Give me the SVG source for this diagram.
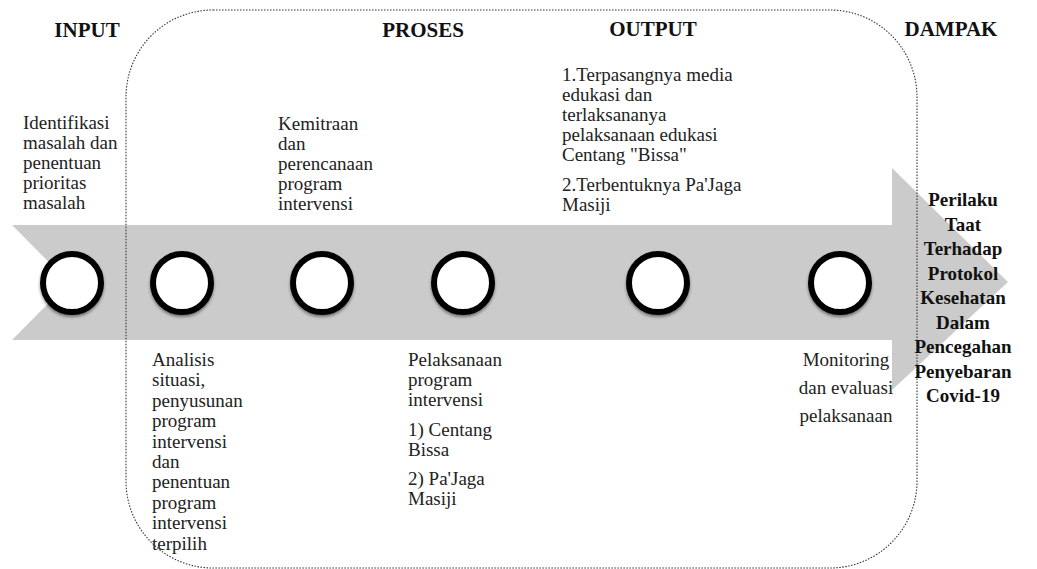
<svg xmlns="http://www.w3.org/2000/svg" width="1037" height="569" viewBox="0 0 1037 569">
<style>
.hd{font-family:"Liberation Serif","Times New Roman",serif;font-weight:bold;font-size:21px;fill:#111;text-anchor:middle}
.tx{font-family:"Liberation Serif","Times New Roman",serif;font-size:19px;fill:#222}
.bd{font-family:"Liberation Serif","Times New Roman",serif;font-weight:bold;font-size:19px;fill:#111;text-anchor:middle}
.node{fill:#fff;stroke:#000;stroke-width:6;filter:url(#sh)}
.frame{fill:none;stroke:#333;stroke-width:1.1;stroke-dasharray:1.5 1.5}
</style>
<defs>
<filter id="sh" x="-30%" y="-30%" width="160%" height="170%">
<feDropShadow dx="0" dy="2" stdDeviation="1.5" flood-color="#000" flood-opacity="0.45"/>
</filter>
</defs>
<rect width="1037" height="569" fill="#fff"/>
<g id="arrow">
<polygon points="12,225 892,225 892,168 1008,282 892,390 892,340 12,340 69,282.5" fill="#cbcbcb"/>
</g>
<g id="frame">
<rect class="frame" x="126" y="10" width="791" height="558" rx="87" ry="87"/>
</g>
<g id="headers">
<text class="hd" x="87" y="37">INPUT</text>
<text class="hd" x="423" y="37">PROSES</text>
<text class="hd" x="653" y="36">OUTPUT</text>
<text class="hd" x="951" y="36">DAMPAK</text>
</g>
<g id="connectors"></g>
<g id="n1"><circle class="node" cx="72" cy="283" r="29"/>
<text class="tx"><tspan x="23" y="129">Identifikasi</tspan><tspan x="23" y="149">masalah dan</tspan><tspan x="23" y="169">penentuan</tspan><tspan x="23" y="189">prioritas</tspan><tspan x="23" y="209">masalah</tspan></text></g>
<g id="n2"><circle class="node" cx="182" cy="283" r="29"/>
<text class="tx"><tspan x="152" y="366">Analisis</tspan><tspan x="152" y="386.4">situasi,</tspan><tspan x="152" y="406.8">penyusunan</tspan><tspan x="152" y="427.2">program</tspan><tspan x="152" y="447.6">intervensi</tspan><tspan x="152" y="468">dan</tspan><tspan x="152" y="488.4">penentuan</tspan><tspan x="152" y="508.8">program</tspan><tspan x="152" y="529.2">intervensi</tspan><tspan x="152" y="549.6">terpilih</tspan></text></g>
<g id="n3"><circle class="node" cx="322" cy="283" r="29"/>
<text class="tx"><tspan x="278" y="130">Kemitraan</tspan><tspan x="278" y="150">dan</tspan><tspan x="278" y="170">perencanaan</tspan><tspan x="278" y="190">program</tspan><tspan x="278" y="210">intervensi</tspan></text></g>
<g id="n4"><circle class="node" cx="463" cy="283" r="29"/>
<text class="tx"><tspan x="408" y="366">Pelaksanaan</tspan><tspan x="408" y="386">program</tspan><tspan x="408" y="406">intervensi</tspan><tspan x="408" y="436">1) Centang</tspan><tspan x="408" y="456">Bissa</tspan><tspan x="408" y="485">2) Pa'Jaga</tspan><tspan x="408" y="505">Masiji</tspan></text></g>
<g id="n5"><circle class="node" cx="658" cy="283" r="29"/>
<text class="tx"><tspan x="562" y="81">1.Terpasangnya media</tspan><tspan x="562" y="101">edukasi dan</tspan><tspan x="562" y="121">terlaksananya</tspan><tspan x="562" y="141">pelaksanaan edukasi</tspan><tspan x="562" y="161">Centang "Bissa"</tspan><tspan x="562" y="191">2.Terbentuknya Pa'Jaga</tspan><tspan x="562" y="211">Masiji</tspan></text></g>
<g id="n6"><circle class="node" cx="840" cy="283" r="29"/>
<text class="tx" text-anchor="middle"><tspan x="846" y="366">Monitoring</tspan><tspan x="846" y="394">dan evaluasi</tspan><tspan x="846" y="422">pelaksanaan</tspan></text></g>
<g id="impact">
<text class="bd"><tspan x="963" y="206">Perilaku</tspan><tspan x="963" y="230.5">Taat</tspan><tspan x="963" y="255">Terhadap</tspan><tspan x="963" y="279.5">Protokol</tspan><tspan x="963" y="304">Kesehatan</tspan><tspan x="963" y="328.5">Dalam</tspan><tspan x="963" y="353">Pencegahan</tspan><tspan x="963" y="377.5">Penyebaran</tspan><tspan x="963" y="402">Covid-19</tspan></text>
</g>
</svg>
